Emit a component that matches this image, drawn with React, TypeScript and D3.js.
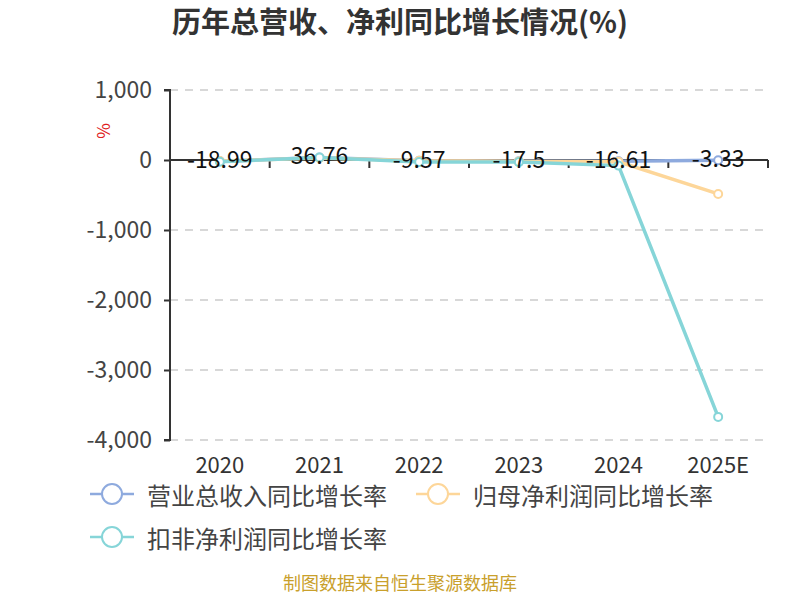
import * as d3 from "d3";
import { useRef, useEffect } from "react";

const years = ["2020", "2021", "2022", "2023", "2024", "2025E"];
const revenueGrowth = [-18.99, 36.76, -9.57, -17.5, -16.61, -3.33];
const netProfitGrowth = [-15, 30, -12, -20, -25, -485];
const deductedProfitGrowth = [-25, 35, -30, -30, -80, -3670];
const yTicks = [1000, 0, -1000, -2000, -3000, -4000];

const seriesNames = ["营业总收入同比增长率", "归母净利润同比增长率", "扣非净利润同比增长率"];
const seriesColors = ["#8eaade", "#fdd699", "#86d5d8"];

export default function App() {
  const width = 800;
  const height = 600;
  const marginLeft = 170;
  const marginRight = 32;
  const marginTop = 90;
  const plotBottom = 440;

  const ref = useRef(null);

  useEffect((): void => {
    if (!ref.current) return;
    const svg = d3.select(ref.current);
    svg.selectAll("*").remove();
    svg.attr("width", width).attr("height", height).attr("viewBox", [0, 0, width, height]);
    const font = "'Microsoft YaHei', 'Noto Sans CJK SC', 'Noto Sans', sans-serif";
    const fmt = (d: number) => d3.format(",")(d).replace("−", "-");

    const x = d3
      .scaleBand()
      .domain(years)
      .range([marginLeft, width - marginRight]);

    const y = d3.scaleLinear().domain([-4000, 1000]).range([plotBottom, marginTop]);

    // title
    svg
      .append("text")
      .attr("x", width / 2)
      .attr("y", 33)
      .attr("text-anchor", "middle")
      .attr("font-family", font)
      .attr("font-size", 29)
      .attr("font-weight", "bold")
      .attr("fill", "#333")
      .text("历年总营收、净利同比增长情况(%)");

    // grid lines
    svg
      .append("g")
      .selectAll("line")
      .data(yTicks.filter((d) => d !== 0))
      .enter()
      .append("line")
      .attr("x1", marginLeft)
      .attr("x2", width - marginRight)
      .attr("y1", (d) => y(d))
      .attr("y2", (d) => y(d))
      .attr("stroke", "#cccccc")
      .attr("stroke-width", 1.5)
      .attr("stroke-dasharray", "8,7");

    // y axis
    const yAxis = d3
      .axisLeft(y)
      .tickValues(yTicks)
      .tickSize(6)
      .tickPadding(12)
      .tickFormat((d) => fmt(d as number));
    svg
      .append("g")
      .attr("transform", `translate(${marginLeft},0)`)
      .call(yAxis)
      .call((g) => g.select(".domain").attr("stroke", "#333").attr("stroke-width", 2).attr("d", `M-6,${marginTop}H0V${plotBottom}H-6`))
      .call((g) => g.selectAll(".tick line").attr("stroke", "#333").attr("stroke-width", 2))
      .call((g) =>
        g
          .selectAll(".tick text")
          .attr("font-family", font)
          .attr("font-size", 23)
          .attr("fill", "#444"),
      );

    // y axis name
    svg
      .append("text")
      .attr("transform", `translate(105,131) rotate(-90)`)
      .attr("text-anchor", "middle")
      .attr("dominant-baseline", "middle")
      .attr("font-family", font)
      .attr("font-size", 17)
      .attr("fill", "#e02020")
      .text("%");

    // x axis on zero
    const xAxis = d3
      .axisBottom(x)
      .tickSize(0)
      .tickFormat(() => "");
    svg
      .append("g")
      .attr("transform", `translate(0,${y(0)})`)
      .call(xAxis)
      .call((g) => g.select(".domain").attr("stroke", "#333").attr("stroke-width", 2).attr("d", `M${marginLeft},0H${width - marginRight}`));

    const boundaries = years.map((d) => x(d) as number).concat([width - marginRight]);
    svg
      .append("g")
      .selectAll("line")
      .data(boundaries)
      .enter()
      .append("line")
      .attr("x1", (d) => d)
      .attr("x2", (d) => d)
      .attr("y1", y(0))
      .attr("y2", y(0) + 8)
      .attr("stroke", "#333")
      .attr("stroke-width", 2);

    // x labels at the bottom
    svg
      .append("g")
      .selectAll("text")
      .data(years)
      .enter()
      .append("text")
      .attr("x", (d) => (x(d) as number) + x.bandwidth() / 2)
      .attr("y", 473)
      .attr("text-anchor", "middle")
      .attr("font-family", font)
      .attr("font-size", 22)
      .attr("fill", "#333")
      .text((d) => d);

    const allSeries = [revenueGrowth, netProfitGrowth, deductedProfitGrowth];
    const cx = (i: number) => (x(years[i]) as number) + x.bandwidth() / 2;
    const line = d3
      .line<number>()
      .x((_, i) => cx(i))
      .y((d) => y(d));

    allSeries.forEach((data, s) => {
      svg
        .append("path")
        .datum(data)
        .attr("d", line)
        .attr("fill", "none")
        .attr("stroke", seriesColors[s])
        .attr("stroke-width", 3.5);
      svg
        .append("g")
        .selectAll("circle")
        .data(data)
        .enter()
        .append("circle")
        .attr("cx", (_, i) => cx(i))
        .attr("cy", (d) => y(d))
        .attr("r", 4)
        .attr("fill", "#fff")
        .attr("stroke", seriesColors[s])
        .attr("stroke-width", 2);
    });

    // value labels for revenue growth
    svg
      .append("g")
      .selectAll("text")
      .data(revenueGrowth)
      .enter()
      .append("text")
      .attr("x", (_, i) => cx(i))
      .attr("y", (d) => y(d) + 7)
      .attr("text-anchor", "middle")
      .attr("font-family", font)
      .attr("font-size", 23)
      .attr("fill", "#111")
      .text((d) => String(d));

    // legend
    const legendItems = [
      { x: 90, y: 494 },
      { x: 416, y: 494 },
      { x: 90, y: 537 },
    ];
    legendItems.forEach((pos, i) => {
      const g = svg.append("g").attr("transform", `translate(${pos.x},${pos.y})`);
      g.append("line")
        .attr("x1", 0)
        .attr("x2", 44)
        .attr("y1", 0)
        .attr("y2", 0)
        .attr("stroke", seriesColors[i])
        .attr("stroke-width", 2.5);
      g.append("circle")
        .attr("cx", 22)
        .attr("cy", 0)
        .attr("r", 10)
        .attr("fill", "#fff")
        .attr("stroke", seriesColors[i])
        .attr("stroke-width", 2);
      g.append("text")
        .attr("x", 57)
        .attr("y", 0)
        .attr("dominant-baseline", "central")
        .attr("font-family", font)
        .attr("font-size", 24)
        .attr("fill", "#444")
        .text(seriesNames[i]);
    });

    // source
    svg
      .append("text")
      .attr("x", width / 2)
      .attr("y", 590)
      .attr("text-anchor", "middle")
      .attr("font-family", font)
      .attr("font-size", 18)
      .attr("fill", "#c9a02c")
      .text("制图数据来自恒生聚源数据库");
  }, []);

  return <svg ref={ref} style={{ display: "block", position: "absolute", left: 0, top: 0 }} />;
}
